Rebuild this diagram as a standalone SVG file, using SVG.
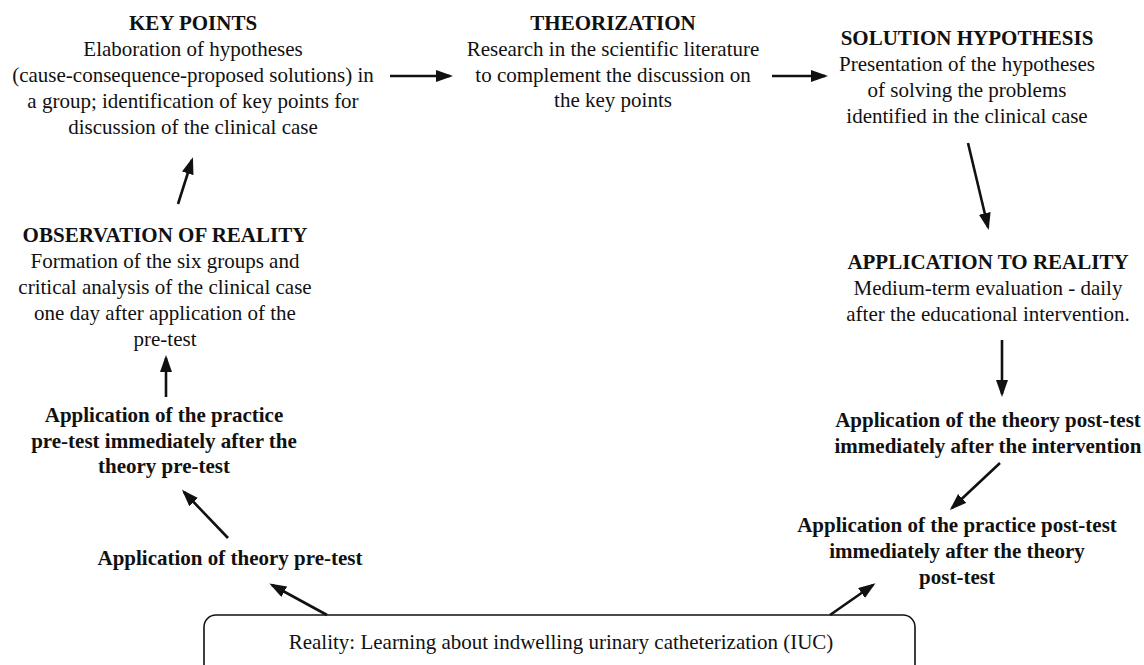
<svg xmlns="http://www.w3.org/2000/svg" width="1144" height="665" viewBox="0 0 1144 665">
<style>
text{font-family:"Liberation Serif","Times New Roman",serif;font-size:21px;fill:#111;text-anchor:middle}
.b{font-weight:bold}
.c{stroke:#111;stroke-width:2.6;fill:none;marker-end:url(#ah)}
</style>
<defs>
<marker id="ah" markerUnits="userSpaceOnUse" markerWidth="18" markerHeight="14" refX="14" refY="6" orient="auto">
<path d="M0,0 L17,6 L0,12 z" fill="#111"/>
</marker>
</defs>
<rect width="1144" height="665" fill="#fff"/>
<g id="key-points">
<text class="b" x="193" y="30">KEY POINTS</text>
<text x="193" y="56">Elaboration of hypotheses</text>
<text x="193" y="82">(cause-consequence-proposed solutions) in</text>
<text x="193" y="108">a group; identification of key points for</text>
<text x="193" y="134">discussion of the clinical case</text>
</g>
<g id="theorization">
<text class="b" x="613" y="30">THEORIZATION</text>
<text x="613" y="56">Research in the scientific literature</text>
<text x="613" y="82">to complement the discussion on</text>
<text x="613" y="107">the key points</text>
</g>
<g id="solution-hypothesis">
<text class="b" x="967" y="45">SOLUTION HYPOTHESIS</text>
<text x="967" y="71">Presentation of the hypotheses</text>
<text x="967" y="97">of solving the problems</text>
<text x="967" y="123">identified in the clinical case</text>
</g>
<g id="application-to-reality">
<text class="b" x="988" y="269">APPLICATION TO REALITY</text>
<text x="988" y="295">Medium-term evaluation - daily</text>
<text x="988" y="321">after the educational intervention.</text>
</g>
<g id="theory-post-test">
<text class="b" x="988" y="427">Application of the theory post-test</text>
<text class="b" x="988" y="453">immediately after the intervention</text>
</g>
<g id="practice-post-test">
<text class="b" x="957" y="532">Application of the practice post-test</text>
<text class="b" x="957" y="558">immediately after the theory</text>
<text class="b" x="957" y="584">post-test</text>
</g>
<g id="reality">
<rect x="204" y="615" width="711" height="70" rx="12" ry="12" fill="#fff" stroke="#111" stroke-width="1.6"/>
<text x="561" y="649">Reality: Learning about indwelling urinary catheterization (IUC)</text>
</g>
<g id="theory-pre-test">
<text class="b" x="230" y="565">Application of theory pre-test</text>
</g>
<g id="practice-pre-test">
<text class="b" x="164" y="422">Application of the practice</text>
<text class="b" x="164" y="448">pre-test immediately after the</text>
<text class="b" x="164" y="473">theory pre-test</text>
</g>
<g id="observation-of-reality">
<text class="b" x="165" y="242">OBSERVATION OF REALITY</text>
<text x="165" y="268">Formation of the six groups and</text>
<text x="165" y="294">critical analysis of the clinical case</text>
<text x="165" y="320">one day after application of the</text>
<text x="165" y="346">pre-test</text>
</g>
<g id="connectors">
<line class="c" x1="390" y1="76" x2="450" y2="76"/>
<line class="c" x1="772" y1="76" x2="825" y2="76"/>
<line class="c" x1="968" y1="143" x2="988" y2="227"/>
<line class="c" x1="1002" y1="340" x2="1002" y2="394"/>
<line class="c" x1="1000" y1="463" x2="952" y2="508"/>
<line class="c" x1="830" y1="615" x2="873" y2="585"/>
<line class="c" x1="327" y1="615" x2="272" y2="585"/>
<line class="c" x1="228" y1="538" x2="184" y2="492"/>
<line class="c" x1="166" y1="397" x2="166" y2="358"/>
<line class="c" x1="178" y1="204" x2="192" y2="160"/>
</g>
</svg>
